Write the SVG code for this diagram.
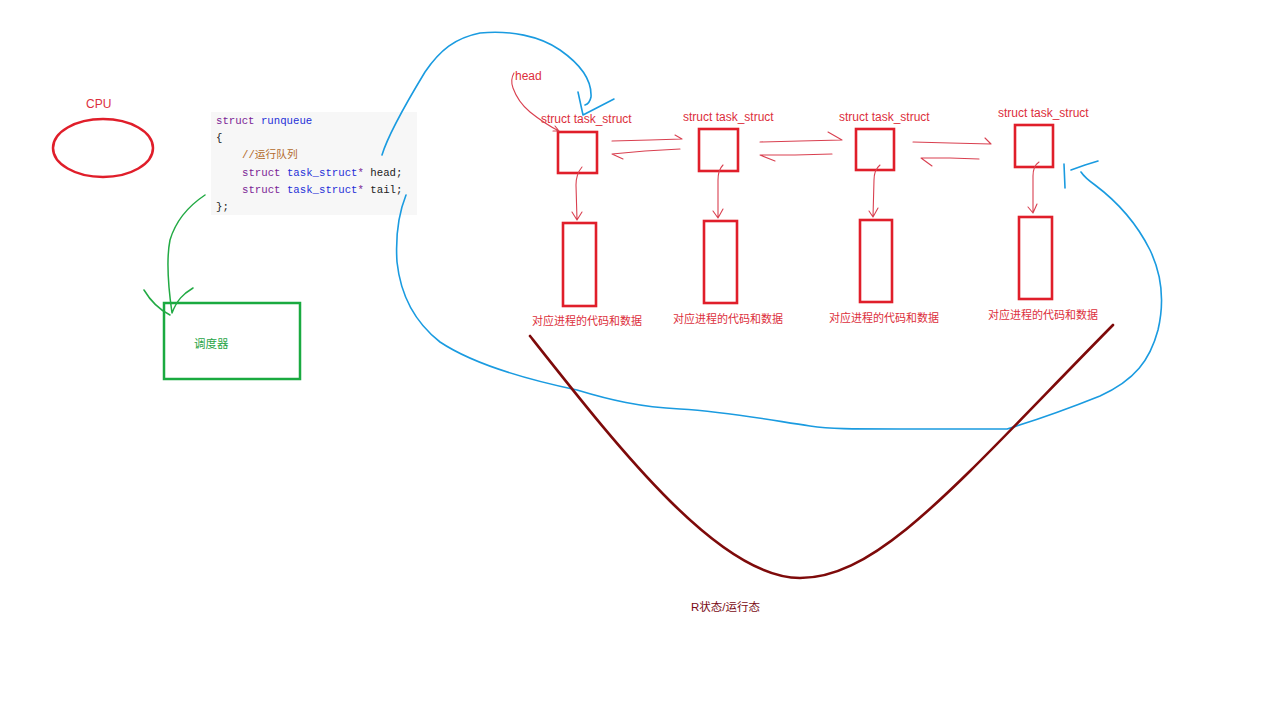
<svg xmlns="http://www.w3.org/2000/svg" width="1288" height="718" viewBox="0 0 1288 718">
<style>
  .lbl{font-family:"Liberation Sans","Noto Sans CJK SC",sans-serif;font-size:12px;fill:#dc2f3c}
  .cn{font-family:"Liberation Sans","Noto Sans CJK SC",sans-serif;font-size:11px;fill:#dc2f3c}
  .code{font-family:"Liberation Mono","Noto Sans CJK SC",monospace;font-size:10.7px;fill:#222}
  .kw{fill:#7b2596}
  .ty{fill:#1f30d8}
  .cm{fill:#b36a2a}
  .box{fill:none;stroke:#e01e2a;stroke-width:2.6}
  .ra{fill:none;stroke:#d94050;stroke-width:1.1;stroke-linecap:round;stroke-linejoin:round}
  .blue{fill:none;stroke:#1a9be0;stroke-width:1.6;stroke-linecap:round;stroke-linejoin:round}
  .green{fill:none;stroke:#22aa44;stroke-width:1.5;stroke-linecap:round;stroke-linejoin:round}
</style>
<rect width="1288" height="718" fill="#ffffff"/>

<g id="cpu">
  <ellipse cx="103" cy="148" rx="50" ry="29" fill="none" stroke="#e01e2a" stroke-width="2.5"/>
  <text x="86" y="108" class="lbl" font-size="11.5">CPU</text>
</g>

<g id="runqueue">
  <rect x="211" y="112" width="206" height="103" fill="#f7f7f7"/>
  <text class="code" x="216" y="124"><tspan class="kw">struct</tspan> <tspan class="ty">runqueue</tspan></text>
  <text class="code" x="216" y="141">{</text>
  <text class="code cm" x="242" y="158">//运行队列</text>
  <text class="code" x="242" y="176"><tspan class="kw">struct</tspan> <tspan class="ty">task_struct</tspan><tspan class="kw">*</tspan> head;</text>
  <text class="code" x="242" y="193"><tspan class="kw">struct</tspan> <tspan class="ty">task_struct</tspan><tspan class="kw">*</tspan> tail;</text>
  <text class="code" x="216" y="210">};</text>
</g>

<g id="scheduler">
  <rect x="164" y="303" width="136" height="76" fill="none" stroke="#1aaa40" stroke-width="2.5"/>
  <text x="194" y="348" font-family="'Liberation Sans','Noto Sans CJK SC',sans-serif" font-size="11.5" fill="#2aa548">调度器</text>
</g>

<g id="task1">
  <text x="541" y="123" class="lbl">struct task_struct</text>
  <rect x="558" y="132" width="39" height="41" class="box"/>
</g>
<g id="task2">
  <text x="683" y="121" class="lbl">struct task_struct</text>
  <rect x="699" y="129" width="39" height="42" class="box"/>
</g>
<g id="task3">
  <text x="839" y="121" class="lbl">struct task_struct</text>
  <rect x="856" y="129" width="38" height="41" class="box"/>
</g>
<g id="task4">
  <text x="998" y="117" class="lbl">struct task_struct</text>
  <rect x="1015" y="125" width="38" height="42" class="box"/>
</g>

<g id="data1">
  <rect x="563" y="223" width="33" height="83" class="box"/>
  <text x="532" y="325" class="cn">对应进程的代码和数据</text>
</g>
<g id="data2">
  <rect x="704" y="221" width="33" height="82" class="box"/>
  <text x="673" y="323" class="cn">对应进程的代码和数据</text>
</g>
<g id="data3">
  <rect x="860" y="220" width="32" height="82" class="box"/>
  <text x="829" y="322" class="cn">对应进程的代码和数据</text>
</g>
<g id="data4">
  <rect x="1019" y="217" width="33" height="82" class="box"/>
  <text x="988" y="319" class="cn">对应进程的代码和数据</text>
</g>

<g id="head-label">
  <text x="515" y="80" class="lbl" font-size="11.5">head</text>
</g>

<g id="state-label">
  <text x="691" y="611" font-family="'Liberation Sans','Noto Sans CJK SC',sans-serif" font-size="11.5" fill="#7a0a14">R状态/运行态</text>
</g>

<g id="connectors">
  <!-- head pointer -->
  <path class="ra" d="M514,73 Q510,80 513,88 Q518,102 530,112 Q545,124 559,131 M559,131 L555,126 M559,131 L553,131"/>
  <!-- next/prev arrows -->
  <path class="ra" d="M612,141 L650,140 L682,139 L675,135 M680,149 L645,151 L612,154 L623,159"/>
  <path class="ra" d="M760,142 L800,141 L842,140 L828,132 M832,154 L795,155 L760,155 L775,161"/>
  <path class="ra" d="M913,142 L950,143 L991,144 L985,138 M979,159 L950,158 L921,158 L932,166"/>
  <!-- task -> data arrows -->
  <path class="ra" d="M582,167 Q576,174 576,185 L577,220 M572,212 L577,220 L582,212"/>
  <path class="ra" d="M723,165 Q718,170 718,180 L718,218 M713,211 L718,218 L723,209"/>
  <path class="ra" d="M880,165 Q874,170 874,180 L873,217 M869,211 L873,217 L878,208"/>
  <path class="ra" d="M1039,162 Q1033,166 1033,176 L1033,213 M1028,207 L1033,213 L1037,204"/>

  <!-- blue: head -> first task -->
  <path class="blue" d="M382,155 C388,135 405,105 425,72 C440,50 455,38 480,33 C510,30 540,36 560,50 C580,64 592,80 591,97 C590,102 588,104 585,105 M578,92 L583,115 L614,99"/>
  <!-- blue: tail -> last task -->
  <path class="blue" d="M406,195 C400,210 395,230 397,262 C400,290 412,320 440,342 C470,362 520,378 577,390 C610,400 640,407 680,409 C730,412 770,420 810,426 C830,429 850,429 900,429 L1007,429 C1030,422 1060,412 1100,396 C1135,380 1150,360 1158,330 C1165,300 1162,275 1150,250 C1135,220 1115,200 1095,185 C1088,180 1083,175 1081,172 M1064,164 L1065,188 M1071,170 L1085,165 L1098,161"/>

  <!-- green: runqueue -> scheduler -->
  <path class="green" d="M205,195 C190,205 176,220 170,240 C166,260 168,285 172,313 M144,290 C150,300 160,310 170,315 M193,288 C183,294 177,300 172,313"/>

  <!-- dark red state curve -->
  <path d="M530,336 C620,450 720,578 800,578 C880,578 960,480 1113,325" fill="none" stroke="#7e0a0a" stroke-width="2.6" stroke-linecap="round"/>
</g>
</svg>
